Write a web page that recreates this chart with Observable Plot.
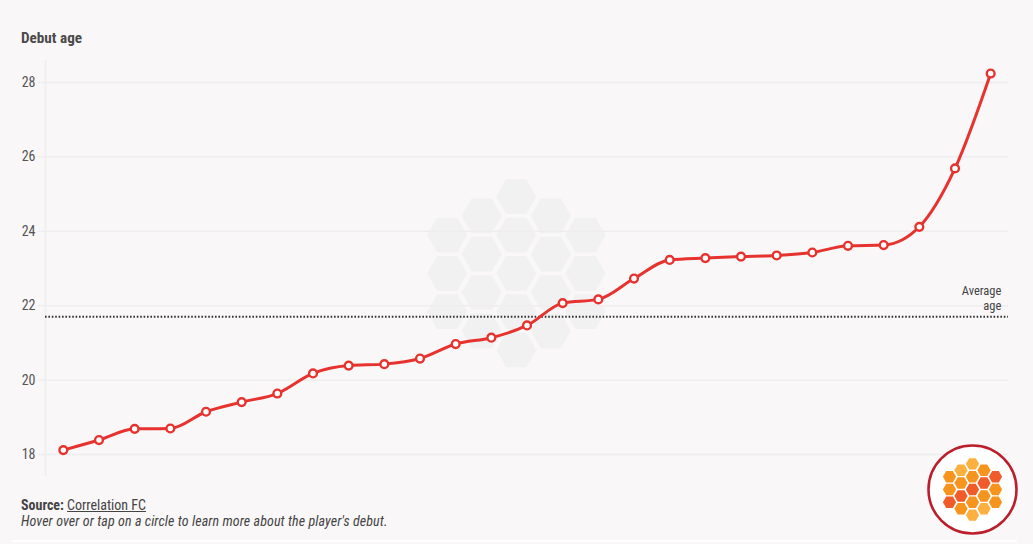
<!DOCTYPE html>
<html><head><meta charset="utf-8">
<script src="https://cdn.jsdelivr.net/npm/d3@7"></script>
<script src="https://cdn.jsdelivr.net/npm/@observablehq/plot@0.6"></script>
<style>
html,body{margin:0;padding:0;background:#f9f7f8;width:1033px;height:544px;overflow:hidden;position:relative}
body{font-family:"Roboto Condensed","Liberation Sans Narrow",Roboto,sans-serif;color:#444}
#title{position:absolute;left:21px;top:29px;font-size:15.2px;font-weight:700;color:#4a4a4a;line-height:18px}
#chart{position:absolute;left:0;top:50px}
#cap{position:absolute;left:21px;top:497px;font-size:14px;line-height:16px;color:#444}
#cap u{text-underline-offset:1px}
#cap i{letter-spacing:.1px}
#logo{position:absolute;left:922px;top:439px}
#strip{position:absolute;left:12px;top:540px;width:1005px;height:2px;background:#fff}
svg{display:block;background:transparent!important}
</style></head><body>
<div id="title">Debut age</div>
<div id="chart"></div>
<div id="cap"><b>Source:</b> <u>Correlation FC</u><br><i>Hover over or tap on a circle to learn more about the player's debut.</i></div>
<div id="strip"></div>
<div id="logo"></div>
<script>
const debutAge=[18.12,18.39,18.69,18.70,19.15,19.41,19.64,20.18,20.39,20.43,20.58,20.97,21.14,21.47,22.07,22.17,22.73,23.23,23.28,23.32,23.35,23.43,23.61,23.63,24.12,25.69,28.24];
const averageAge=21.7;
const yTicks=[18,20,22,24,26,28];
const hexColumn=[-2,-2,-2,-1,-1,-1,-1,0,0,0,0,0,1,1,1,1,2,2,2];
const hexRow=[-1,0,1,-1.5,-0.5,0.5,1.5,-2,-1,0,1,2,-1.5,-0.5,0.5,1.5,-1,0,1];
const logoShade=["a","a","r","l","a","r","a","l","a","r","a","l","a","r","a","l","r","a","a"];
const shadeColors={a:"#f7941d",l:"#fbb040",r:"#f15a29"};
const rounds=debutAge.map((_,i)=>i+1);
const points=rounds.map((x,i)=>({x,y:debutAge[i]}));
const hexes=hexColumn.map((c,i)=>({c,r:hexRow[i],s:logoShade[i]}));
const hexagon={draw(ctx,size){const r=Math.sqrt(size/Math.PI);for(let i=0;i<6;i++){const a=i*Math.PI/3,x=r*Math.cos(a),y=r*Math.sin(a);i?ctx.lineTo(x,y):ctx.moveTo(x,y)}ctx.closePath()}};

const red="#e7332f",grid="#efeded";
const chart=Plot.plot({
  width:1033,height:430,marginTop:10,marginBottom:4,marginLeft:45,marginRight:25,
  style:{background:"transparent",fontFamily:'"Roboto Condensed","Liberation Sans Narrow",Roboto,sans-serif',fontSize:"14px"},
  x:{domain:[0.5,27.5],axis:null},
  y:{domain:[17.41,28.59],ticks:yTicks},
  marks:[
    Plot.dot(hexes,{x:d=>13.7+d.c*0.97,y:d=>22.87-d.r*1.03,r:20,symbol:hexagon,fill:"#f2f1f1",stroke:"none"}),
    Plot.ruleX([0.5],{stroke:grid,strokeWidth:1.5}),
    Plot.gridY(yTicks,{stroke:grid,strokeOpacity:1,strokeWidth:1.5}),
    Plot.axisY(yTicks,{anchor:"left",label:null,tickSize:7,tickPadding:3,stroke:grid,color:"#555",fill:"#555",fontSize:14,strokeWidth:1.5}),
    Plot.ruleY([averageAge],{stroke:"#333",strokeWidth:2,strokeDasharray:"1.6 1.8"}),
    Plot.text(["Average\nage"],{x:27.3,y:averageAge,textAnchor:"end",lineAnchor:"bottom",dy:-6.5,lineHeight:1.2,fill:"#444",fontSize:12.5}),
    Plot.line(points,{x:"x",y:"y",curve:"monotone-x",stroke:red,strokeWidth:3}),
    Plot.dot(points,{x:"x",y:"y",r:3.9,fill:"white",stroke:red,strokeWidth:2.4})
  ]
});
document.getElementById("chart").append(chart);

const logo=Plot.plot({
  width:100,height:100,margin:0,
  style:{background:"transparent"},
  x:{domain:[-4.35,4.35],axis:null},
  y:{domain:[-3.9,3.9],axis:null},
  marks:[
    Plot.dot([0],{x:()=>0,y:()=>0,r:44,fill:"white",stroke:"#bb1f2b",strokeWidth:2.6,symbol:"circle"}),
    Plot.dot(hexes,{x:"c",y:d=>-d.r,r:6.6,symbol:hexagon,fill:d=>shadeColors[d.s]})
  ]
});
document.getElementById("logo").append(logo);
</script></body></html>
